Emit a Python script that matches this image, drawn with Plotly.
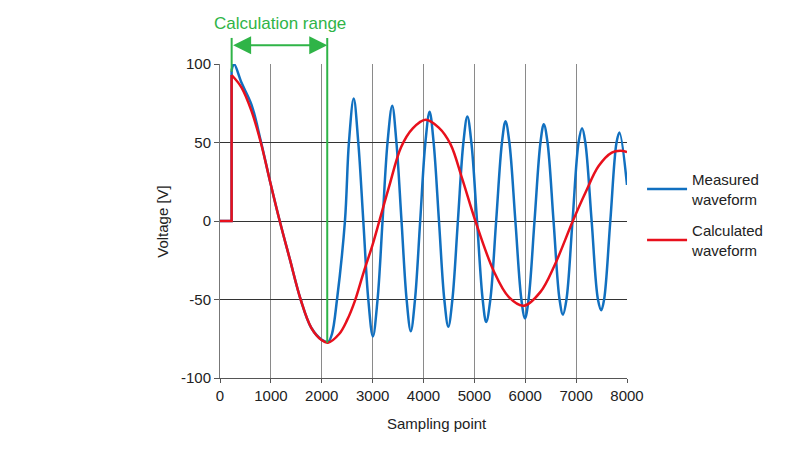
import plotly.graph_objects as go

# sampling points / voltage
measured_x = [228, 275, 424, 620, 802, 978, 1174, 1370, 1585, 1794, 2003, 2125, 2200,
              2300, 2456, 2534, 2628, 2718, 2817, 2915, 3005,
              3097, 3195, 3293, 3385, 3468, 3568, 3668, 3750,
              3833, 3935, 4037, 4120, 4199, 4304, 4409, 4488,
              4568, 4676, 4784, 4862, 4941, 5052, 5163, 5232,
              5314, 5428, 5542, 5612, 5688, 5806, 5924, 5995,
              6065, 6182, 6299, 6365, 6438, 6556, 6674, 6741,
              6810, 6929, 7048, 7117, 7181, 7305, 7429, 7494,
              7550, 7672, 7794, 7851, 8000]
measured_y = [96, 100, 88, 74, 51, 26, 0, -24, -50, -68, -75.7, -77, -72,
              -50, 0, 50, 78, 50, 0, -50, -73.5,
              -50, 0, 50, 73.4, 50, 0, -50, -70.2,
              -50, 0, 50, 69.6, 50, 0, -50, -67.4,
              -50, 0, 50, 66.6, 50, 0, -50, -64.4,
              -50, 0, 50, 63.5, 50, 0, -50, -62,
              -50, 0, 50, 61.7, 50, 0, -50, -59.6,
              -50, 0, 50, 59, 50, 0, -50, -56.8,
              -50, 0, 50, 56.4, 23]

calc_x = [228, 424, 620, 802, 978, 1174, 1370, 1585, 1794, 2003, 2120,
          2342, 2500, 2650, 2820, 3000, 3132, 3329, 3559, 3789, 4039,
          4300, 4530, 4760, 5020, 5382, 5678, 5974,
          6303, 6566, 6935, 7182, 7442, 7701, 7870, 8000]
calc_y = [93, 85, 70, 50, 26, 0, -24, -50, -68, -76, -77.5,
          -72, -63, -51, -33, -15, 0, 22.5, 47, 59, 64.5,
          59.5, 49, 27, 0, -32, -48.5, -54,
          -45, -29, 0, 18, 35, 43.6, 44.7, 44]

# flat part before the start and the jump
step_x = [0, 228, 228]
measured_step_y = [0, 0, 96]
calc_step_y = [0, 0, 93]

x_ticks = [0, 1000, 2000, 3000, 4000, 5000, 6000, 7000, 8000]
y_ticks = [-100, -50, 0, 50, 100]
y_ticktext = ["-100", "-50", "0", "50", "100"]

range_start = 229
range_end = 2108

blue = "#1170c0"
red = "#e8101c"
green = "#2fb447"

fig = go.Figure()
fig.add_trace(go.Scatter(x=step_x, y=measured_step_y, mode="lines", showlegend=False,
                         line=dict(color=blue, width=2.5), hoverinfo="skip"))
fig.add_trace(go.Scatter(x=measured_x, y=measured_y, mode="lines", name="Measured<br>waveform",
                         legendgroup="m", line=dict(color=blue, width=2.5, shape="spline", smoothing=1)))
fig.add_trace(go.Scatter(x=step_x, y=calc_step_y, mode="lines", showlegend=False,
                         line=dict(color=red, width=2.5), hoverinfo="skip"))
fig.add_trace(go.Scatter(x=calc_x, y=calc_y, mode="lines", name="Calculated<br>waveform",
                         legendgroup="c", line=dict(color=red, width=2.5, shape="spline", smoothing=1)))

# calculation range markers
fig.add_shape(type="line", xref="x", yref="paper", x0=range_start, x1=range_start,
              y0=0.975, y1=1.083, line=dict(color=green, width=2))
fig.add_shape(type="line", xref="x", yref="paper", x0=range_end, x1=range_end,
              y0=0.1125, y1=1.083, line=dict(color=green, width=2))
fig.add_annotation(xref="x", yref="paper", x=range_end, y=1.06, axref="x", ax=range_start,
                   ayref="pixel", ay=0, text="", showarrow=True, arrowside="end+start",
                   arrowhead=2, arrowsize=1.8, arrowwidth=2, arrowcolor=green,
                   standoff=0, startstandoff=0)
fig.add_annotation(xref="paper", yref="paper", x=0.147, y=1.13, xanchor="center", yanchor="middle",
                   text="Calculation range", showarrow=False, font=dict(size=17, color=green))

# axis titles
fig.add_annotation(xref="paper", yref="paper", x=-0.143, y=0.5, xanchor="center", yanchor="middle",
                   text="Voltage [V]", textangle=-90, showarrow=False, font=dict(size=15, color="#222"))
fig.add_annotation(xref="paper", yref="paper", x=0.533, y=-0.146, xanchor="center", yanchor="middle",
                   text="Sampling point", showarrow=False, font=dict(size=15, color="#222"))

fig.update_xaxes(range=[0, 8000], tickvals=x_ticks,
                 showgrid=True, gridcolor="#8a8a8a", gridwidth=1, zeroline=False,
                 showline=True, linecolor="#555", linewidth=1, mirror=False,
                 ticks="outside", ticklen=4, tickcolor="#555",
                 tickfont=dict(size=15, color="#222"))
fig.update_yaxes(range=[-100, 100], tickvals=y_ticks, ticktext=y_ticktext,
                 showgrid=True, gridcolor="#333", gridwidth=1, zeroline=False,
                 showline=True, linecolor="#777", linewidth=1,
                 ticks="outside", ticklen=5, tickcolor="#555",
                 tickfont=dict(size=15, color="#222"))

# page body adds 8px around the plot, so the figure is 8px smaller each way
fig.update_layout(
    width=792, height=442,
    margin=dict(l=212, r=173, t=56, b=72),
    paper_bgcolor="white", plot_bgcolor="white",
    font=dict(family="Liberation Sans, Arial, sans-serif", color="#222"),
    showlegend=True,
    legend=dict(x=1.037, y=0.685, xanchor="left", yanchor="top", font=dict(size=15),
                itemwidth=40, tracegroupgap=9, bgcolor="rgba(0,0,0,0)"),
)

fig.write_html("out.html")
